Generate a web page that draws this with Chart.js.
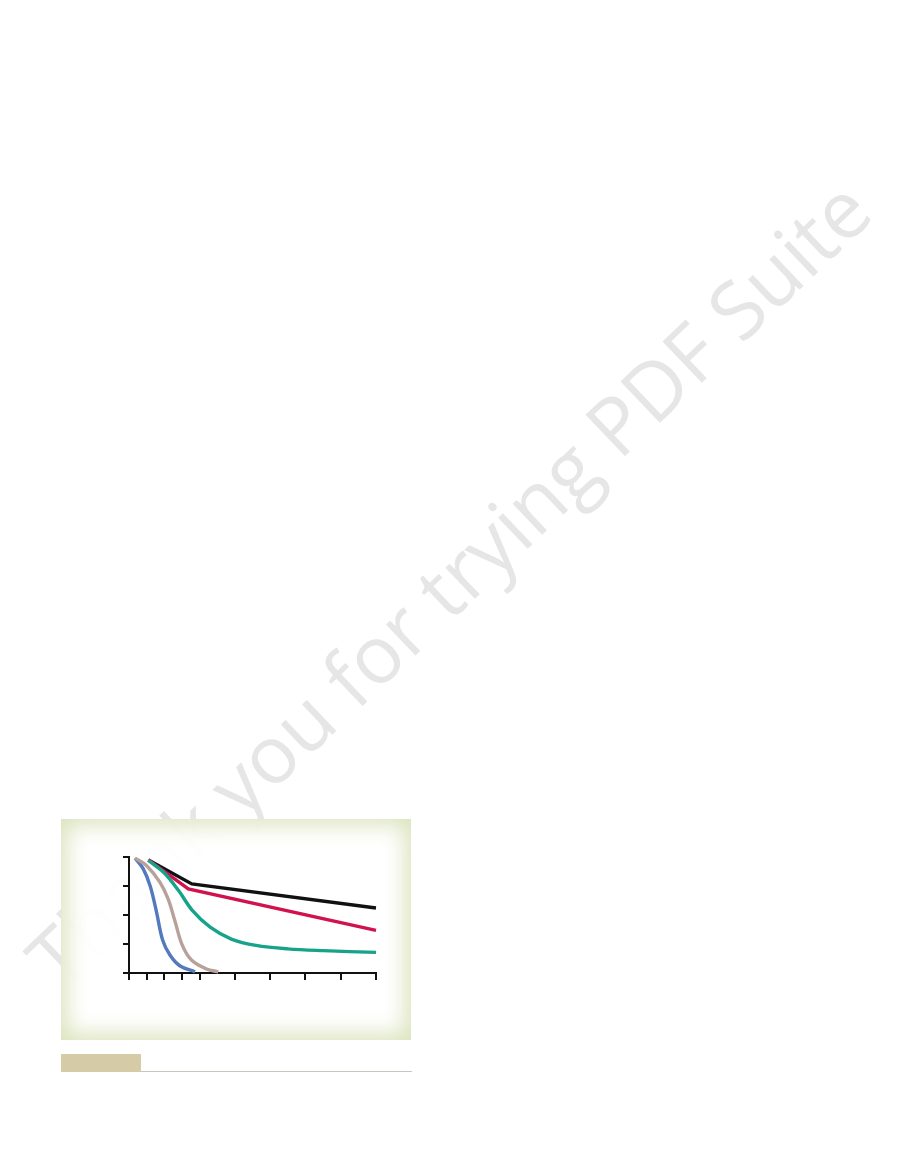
<!DOCTYPE html>
<html>
<head>
<meta charset="utf-8">
<script src="https://cdn.jsdelivr.net/npm/chart.js@4"></script>
<style>
  body { margin: 0; width: 897px; height: 1175px; background: #fff; position: relative; overflow: hidden; }
  #watermark {
    position: absolute; left: 447px; top: 582px;
    transform: translate(-50%, -50%) rotate(-43.6deg);
    font-family: "Open Sans", "Noto Sans", sans-serif; font-size: 80px;
    color: #e6e6e6; white-space: nowrap;
  }
  #panel {
    position: absolute; left: 61px; top: 819px; width: 350px; height: 221px;
    background: rgba(255, 255, 255, 0.94); box-shadow: inset 0 0 22px 6px #dbe3bd;
  }
  #chart-box { position: absolute; left: 100px; top: 840px; width: 300px; height: 160px; }
  #tag { position: absolute; left: 61px; top: 1054px; width: 80px; height: 18px; background: #d5cba6; }
  #rule { position: absolute; left: 141px; top: 1071px; width: 271px; height: 1px; background: #c9c7bd; }
</style>
</head>
<body>
<div id="watermark">Thank you for trying PDF Suite</div>
<div id="panel"></div>
<div id="chart-box"><canvas id="chart"></canvas></div>
<div id="tag"></div>
<div id="rule"></div>
<script>
// x tick positions (first ones are half steps)
const xTicks = [0, 0.5, 1, 1.5, 2, 3, 4, 5, 6, 7];

// series
const blackX = [0.55, 1.78, 7];
const blackY = [3.9, 3.07, 2.24];
const redX = [0.55, 1.68, 7];
const redY = [3.9, 2.9, 1.47];
const tealX = [0.55, 1.0, 1.4, 1.8, 2.3, 2.9, 3.6, 4.5, 5.5, 7];
const tealY = [3.88, 3.45, 2.85, 2.15, 1.58, 1.17, 0.95, 0.83, 0.77, 0.71];
const blueX = [0.17, 0.4, 0.6, 0.78, 0.95, 1.16, 1.44, 1.87];
const blueY = [3.96, 3.6, 3.0, 2.1, 1.15, 0.62, 0.25, 0.04];
const tanX = [0.17, 0.5, 0.87, 1.11, 1.3, 1.5, 1.77, 2.2, 2.53];
const tanY = [3.96, 3.7, 3.14, 2.55, 1.8, 0.99, 0.45, 0.14, 0.04];

function pts(xs, ys) {
    return xs.map((x, i) => ({ x: x, y: ys[i] }));
}

function series(xs, ys, color, curved) {
    return {
        data: pts(xs, ys),
        borderColor: color,
        borderWidth: 3.4,
        pointRadius: 0,
        fill: false,
        tension: curved ? 0.35 : 0,
        borderCapStyle: 'butt',
        borderJoinStyle: 'miter',
        clip: false
    };
}

const config = {
    type: 'line',
    data: {
        datasets: [
            series(tanX, tanY, '#b7a19a', true),
            series(blueX, blueY, '#5479bd', true),
            series(tealX, tealY, '#16a38a', true),
            series(redX, redY, '#d0134f', false),
            series(blackX, blackY, '#111111', false)
        ]
    },
    options: {
        responsive: false,
        animation: false,
        layout: { padding: { left: 23, right: 24, top: 17, bottom: 20 } },
        plugins: { legend: { display: false }, tooltip: { enabled: false } },
        scales: {
            x: {
                type: 'linear',
                min: 0,
                max: 7,
                afterBuildTicks: (scale) => {
                    scale.ticks = xTicks.map(v => ({ value: v }));
                },
                ticks: { display: false },
                grid: { drawOnChartArea: false, drawTicks: true, tickLength: 7, color: '#111', lineWidth: 2 },
                border: { color: '#111', width: 2 }
            },
            y: {
                min: 0,
                max: 4,
                ticks: { display: false, stepSize: 1 },
                grid: { drawOnChartArea: false, drawTicks: true, tickLength: 6, color: '#111', lineWidth: 2 },
                border: { color: '#111', width: 2 }
            }
        }
    }
};

const canvas = document.getElementById('chart');
canvas.width = 300;
canvas.height = 160;
const myChart = new Chart(canvas.getContext('2d'), config);
</script>
</body>
</html>
